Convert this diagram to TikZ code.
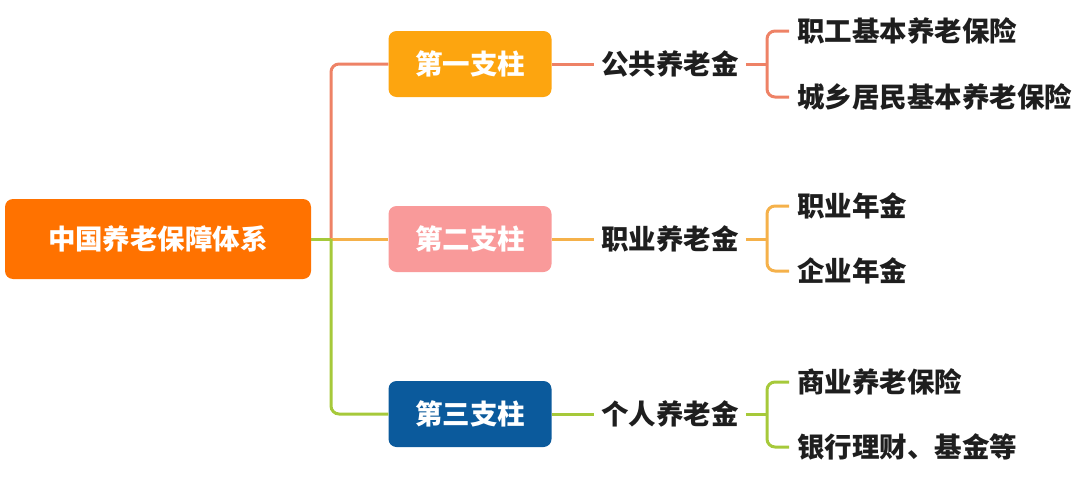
\documentclass[tikz,border=0pt]{standalone}
\usepackage{fontspec}
\setmainfont{Noto Sans CJK SC}
\usepackage{tikz}

\definecolor{rootorange}{HTML}{FF7200}
\definecolor{firstfill}{HTML}{FDA50F}
\definecolor{secondfill}{HTML}{F99A9A}
\definecolor{thirdfill}{HTML}{0B5A9C}
\definecolor{salmonline}{HTML}{EE8266}
\definecolor{orangeline}{HTML}{F5B14A}
\definecolor{greenline}{HTML}{A6C93A}
\definecolor{inkblack}{HTML}{1E1E1E}

\tikzset{
  bigtext/.style={font=\bfseries\fontsize{27.5}{30}\selectfont},
  rootbox/.style={bigtext, fill=rootorange, text=white, rounded corners=8,
    minimum width=306, minimum height=80},
  pillar/.style={bigtext, text=white, rounded corners=8,
    minimum width=163, minimum height=66},
  fund/.style={bigtext, text=inkblack, inner xsep=7, inner ysep=2},
  leaf/.style={bigtext, text=inkblack, anchor=west, inner xsep=8, inner ysep=2},
  branch/.style={line width=3, rounded corners=8}
}

\begin{document}
\begin{tikzpicture}[x=1pt, y=-1pt]
  \useasboundingbox (0,0) rectangle (1080,479);

  % root and the three pillars
  \node[rootbox] (root) at (158,239) {中国养老保障体系};
  \node[pillar, fill=firstfill] (p1) at (470,64) {第一支柱};
  \node[pillar, fill=secondfill] (p2) at (470,239) {第二支柱};
  \node[pillar, fill=thirdfill] (p3) at (470,414) {第三支柱};

  % pension kinds
  \node[fund] (g1) at (670,64) {公共养老金};
  \node[fund] (g2) at (670,239) {职业养老金};
  \node[fund] (g3) at (670,414) {个人养老金};

  % leaves
  \node[leaf] (a1) at (789,31) {职工基本养老保险};
  \node[leaf] (a2) at (789,97) {城乡居民基本养老保险};
  \node[leaf] (b1) at (789,206) {职业年金};
  \node[leaf] (b2) at (789,271) {企业年金};
  \node[leaf] (c1) at (789,382) {商业养老保险};
  \node[leaf] (c2) at (789,447) {银行理财、基金等};

  % trunk
  \coordinate (trunk) at (331,239);
  \draw[branch, salmonline] (trunk) |- (p1.west);
  \draw[branch, orangeline] (root.east) -- (p2.west);
  \draw[branch, greenline] (root.east) -- (trunk);
  \draw[branch, greenline] (trunk) |- (p3.west);

  % pillar to pension kind
  \draw[branch, salmonline] (p1.east) -- (g1.west);
  \draw[branch, orangeline] (p2.east) -- (g2.west);
  \draw[branch, greenline] (p3.east) -- (g3.west);

  % brackets
  \coordinate (k1) at (767,64);
  \coordinate (k2) at (767,239);
  \coordinate (k3) at (767,414);
  \draw[branch, salmonline] (g1.east) -- (k1);
  \draw[branch, salmonline] (a1.west) -| (k1) |- (a2.west);
  \draw[branch, orangeline] (g2.east) -- (k2);
  \draw[branch, orangeline] (b1.west) -| (k2) |- (b2.west);
  \draw[branch, greenline] (g3.east) -- (k3);
  \draw[branch, greenline] (c1.west) -| (k3) |- (c2.west);
\end{tikzpicture}
\end{document}
